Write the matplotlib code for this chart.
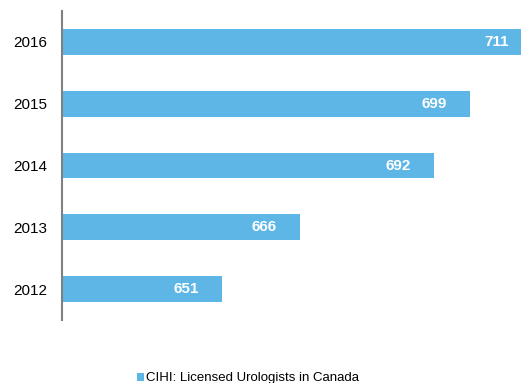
import matplotlib
matplotlib.use("Agg")
import matplotlib.pyplot as plt

years = ["2012", "2013", "2014", "2015", "2016"]
urologists = [651, 666, 692, 699, 711]
series_name = "CIHI: Licensed Urologists in Canada"

BAR_COLOR = "#5DB6E5"

plt.rcParams["font.family"] = ["Liberation Sans", "DejaVu Sans"]

fig = plt.figure(figsize=(5.21, 3.83), dpi=100)
ax = fig.add_axes([62 / 521, 63 / 383, 517 / 521, 309 / 383])

ypos = list(range(len(years)))
bars = ax.barh(ypos, urologists, height=0.42, color=BAR_COLOR, label=series_name)

for y, v in zip(ypos, urologists):
    ax.annotate(str(v), xy=(v, y), xytext=(-17, 0), textcoords="offset points",
                ha="right", va="center", color="white", fontweight="bold", fontsize=11)

ax.set_xlim(620, 720)
ax.set_ylim(-0.5, 4.5)
ax.set_yticks(ypos)
ax.set_yticklabels(years, fontsize=11)
ax.tick_params(axis="y", length=0, pad=10.5)
ax.set_xticks([])
for side in ["top", "right", "bottom"]:
    ax.spines[side].set_visible(False)
ax.spines["left"].set_color("#808080")
ax.spines["left"].set_linewidth(1.5)

fig.legend(loc="center", bbox_to_anchor=(248 / 521, 1 - 378.5 / 383), frameon=False,
           fontsize=9.5, handlelength=0.6, handleheight=0.6, handletextpad=0.15)

fig.savefig("out.png", dpi=100)
